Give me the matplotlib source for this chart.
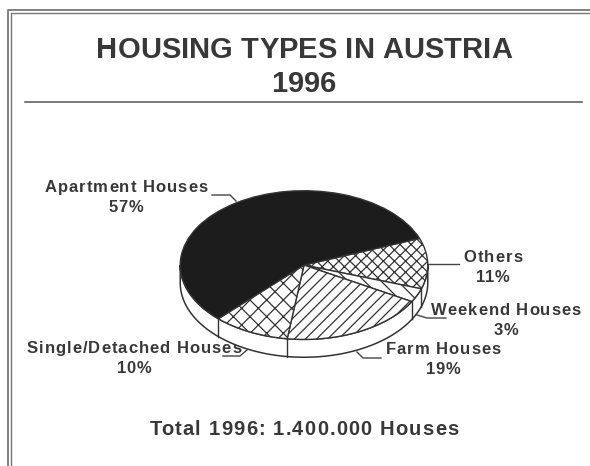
import numpy as np
import matplotlib
matplotlib.use("Agg")
import matplotlib.pyplot as plt
from matplotlib.font_manager import FontProperties

plt.rcParams['font.family'] = ['Liberation Sans', 'DejaVu Sans']
plt.rcParams['hatch.linewidth'] = 0.9

# clockwise from the right hand side of the pie
categories = ['Others', 'Weekend Houses', 'Farm Houses', 'Single/Detached Houses', 'Apartment Houses']
shares = [11, 3, 19, 10, 57]
colors = ['white', 'white', 'white', 'white', '#1c1c1c']
hatches = ['xxx', '\\\\', '///', 'xx', None]

W, H = 590, 466
INK = '#383838'
start_angle = 21
cx, cy, rx, ry = 304, 265, 125, 75
depth = 18 / ry

fig = plt.figure(figsize=(W / 100, H / 100), dpi=100)
renderer = fig.canvas.get_renderer()

# page furniture in pixel coordinates
bg = fig.add_axes([0, 0, 1, 1])
bg.set_xlim(0, W)
bg.set_ylim(H, 0)
bg.axis('off')


def spaced_text(x, y, s, size, tracking):
    # the original lettering is tracked out, matplotlib has no option for that
    fp = FontProperties(family='Liberation Sans', weight='bold', size=size)

    def width(part):
        return renderer.get_text_width_height_descent(part, fp, False)[0]

    left = x - (width(s) + tracking * (len(s) - 1)) / 2
    base = y + 0.72 * size * 100 / 72 / 2
    for i, ch in enumerate(s):
        if ch != ' ':
            bg.text(left + width(s[:i + 1]) - width(ch) + tracking * i, base, ch,
                    ha='left', va='baseline', fontproperties=fp, color=INK)


bg.plot([8, 8, W], [H, 10, 10], color='#777777', lw=1.3)
bg.plot([11, 11, W], [H, 13, 13], color='#777777', lw=1.0)
bg.plot([25, 582], [102, 102], color='#555555', lw=1.1)

spaced_text(304, 47, 'HOUSING TYPES IN AUSTRIA', 21, 0.1)
spaced_text(304, 82, '1996', 21, 0.1)
spaced_text(304, 428, 'Total 1996: 1.400.000 Houses', 14.5, 1.2)

label_xy = [(493, 256), (506, 309), (443, 348), (134, 347), (126, 186)]
leaders = [
    ([428, 459], [264, 264]),
    ([417, 427, 446], [315, 318, 318]),
    ([357, 363, 381], [352, 358, 358]),
    ([247, 240, 223], [350, 356, 356]),
    ([212, 230, 236], [195, 195, 201]),
]
for cat, share, (lx, ly), (xs, ys) in zip(categories, shares, label_xy, leaders):
    spaced_text(lx, ly, cat, 12, 1.0)
    spaced_text(lx, ly + 20, f'{share}%', 12, 0.6)
    bg.plot(xs, ys, color='#444444', lw=1.0)

# pie, squashed by giving it a flat axes
ax = fig.add_axes([(cx - rx) / W, 1 - (cy + ry + 18) / H, 2 * rx / W, (2 * ry + 18) / H])
ax.patch.set_alpha(0)

# rim below the top face
t = np.linspace(np.pi, 2 * np.pi, 200)
rim_x = np.concatenate([np.cos(t), np.cos(t[::-1])])
rim_y = np.concatenate([np.sin(t) - depth, np.sin(t[::-1])])
ax.fill(rim_x, rim_y, facecolor='white', edgecolor='#333333', lw=1.1)

wedges, _ = ax.pie(shares, colors=colors, startangle=start_angle, counterclock=False,
                   radius=1, center=(0, 0),
                   wedgeprops=dict(edgecolor='#333333', linewidth=1.0))
for w, hatch in zip(wedges, hatches):
    if hatch:
        w.set_hatch(hatch)

# vertical edges where slice boundaries reach the visible rim
bounds = start_angle - np.cumsum(shares) * 3.6
for a in np.radians(bounds):
    if np.sin(a) < 0:
        ax.plot([np.cos(a)] * 2, [np.sin(a), np.sin(a) - depth], color='#333333', lw=1.0)

ax.set_aspect('auto')
ax.set_xlim(-1.01, 1.01)
ax.set_ylim(-1 - depth - 0.01, 1.01)
ax.axis('off')

fig.savefig('out.png', dpi=100)
